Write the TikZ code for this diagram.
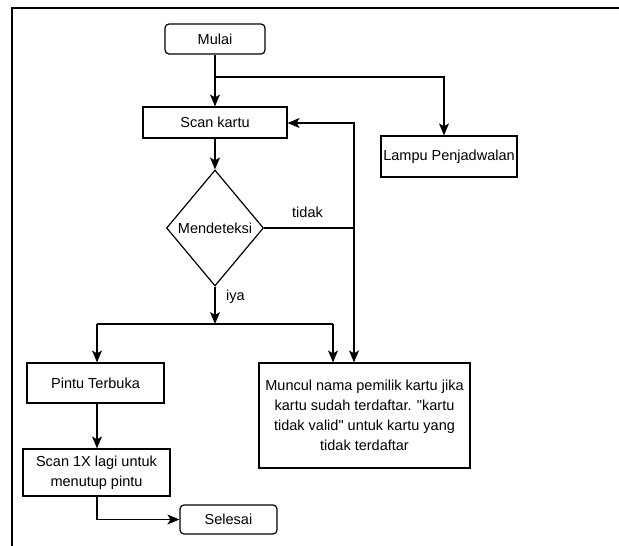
\documentclass[tikz,border=0pt]{standalone}
\usepackage{fontspec}
\setmainfont{Liberation Sans}[Ligatures=TeXOff]
\usetikzlibrary{shapes.geometric,arrows.meta}
\begin{document}
\begin{tikzpicture}[x=1pt,y=-1pt,
  every node/.style={font=\fontsize{14.5}{20}\selectfont},
  procbox/.style={draw,line width=1.2pt,rectangle,inner sep=0pt,align=center},
  termbox/.style={draw,line width=1.2pt,rectangle,rounded corners=4pt,inner sep=0pt,align=center},
  decbox/.style={draw,line width=1.2pt,diamond,inner sep=0pt},
  flow/.style={line width=1.2pt,-{Stealth[length=12pt,width=10pt,inset=3pt]}},
  plain/.style={line width=1.2pt},
  lbl/.style={inner sep=0pt}]
\useasboundingbox (0,0) rectangle (619,546);
\draw[line width=1.8pt] (12,546) -- (12,8) -- (619,8);
\node[termbox,minimum width=100pt,minimum height=30pt] (mulai) at (215,39) {Mulai};
\node[procbox,minimum width=144pt,minimum height=31pt] (scan) at (215,122.5) {Scan kartu};
\node[procbox,minimum width=136pt,minimum height=41pt] (lampu) at (449,156.5) {Lampu Penjadwalan};
\node[decbox,minimum width=97pt,minimum height=116pt] (dec) at (215,228) {Mendeteksi};
\node[procbox,minimum width=137pt,minimum height=40pt] (pintu) at (95.5,383) {Pintu Terbuka};
\node[procbox,minimum width=211pt,minimum height=105pt] (muncul) at (364.5,415.5) {Muncul nama pemilik kartu jika\\kartu sudah terdaftar. "kartu\\tidak valid" untuk kartu yang\\tidak terdaftar};
\node[procbox,minimum width=147pt,minimum height=47pt] (scan1) at (96.5,472.5) {Scan 1X lagi untuk\\menutup pintu};
\node[termbox,minimum width=97pt,minimum height=29pt] (selesai) at (228.5,519.5) {Selesai};
\coordinate (b1) at (215,77);
\coordinate (b2) at (444,77);
\coordinate (lp) at (354,123);
\coordinate (ld) at (354,228);
\coordinate (sp) at (215,324);
\coordinate (spl) at (97,324);
\coordinate (spr) at (333,324);
\coordinate (sc) at (97,519.5);
\draw[flow] (mulai.south) -- (scan.north);
\draw[flow] (b1) -- (b2) -- (b2 |- lampu.north);
\draw[flow] (scan.south) -- (dec.north);
\draw[plain] (dec.east) -- (ld);
\draw[flow] (ld) -- (lp) -- (scan.east |- lp);
\draw[flow] (ld) -- (ld |- muncul.north);
\draw[flow] (dec.south) -- (sp);
\draw[plain] (spl) -- (spr);
\draw[flow] (spl) -- (spl |- pintu.north);
\draw[flow] (spr) -- (spr |- muncul.north);
\draw[flow] (pintu.south -| spl) -- (spl |- scan1.north);
\draw[flow] (scan1.south -| spl) -- (sc) -- (selesai.west);
\node[lbl,anchor=west] (tidak) at (292,212) {tidak};
\node[lbl,anchor=west] (iya) at (226,297) {iya};
\end{tikzpicture}
\end{document}
